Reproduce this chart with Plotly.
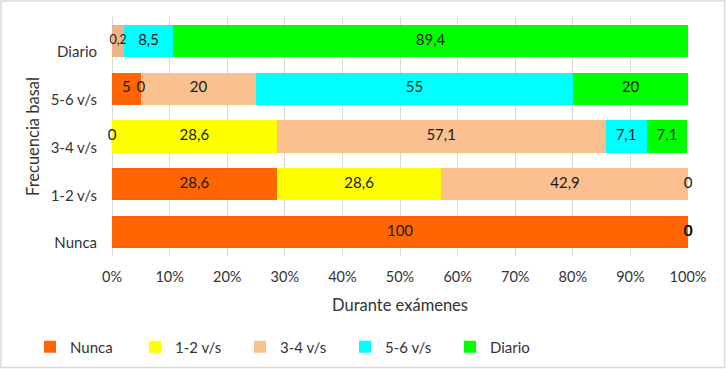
import plotly.graph_objects as go

# ---- data ----
categories = ["Nunca", "1-2 v/s", "3-4 v/s", "5-6 v/s", "Diario"]
series_names = ["Nunca", "1-2 v/s", "3-4 v/s", "5-6 v/s", "Diario"]

nunca = [100, 28.6, 0, 5, None]
uno_dos = [0, 28.6, 28.6, 0, None]
tres_cuatro = [0, 42.9, 57.1, 20, 2.1]
cinco_seis = [0, 0, 7.1, 55, 8.5]
diario = [0, None, 7.1, 20, 89.4]

nunca_labels = ["100", "28,6", "0", "5", ""]
uno_dos_labels = ["0", "28,6", "28,6", "0", ""]
tres_cuatro_labels = ["0", "42,9", "57,1", "20", "0,2"]
cinco_seis_labels = ["0", "0", "7,1", "55", "8,5"]
diario_labels = ["0", "", "7,1", "20", "89,4"]

x_ticks = [0, 10, 20, 30, 40, 50, 60, 70, 80, 90, 100]
x_tick_text = ["0%", "10%", "20%", "30%", "40%", "50%", "60%", "70%", "80%", "90%", "100%"]

# ---- styles ----
colors = ["#FF6600", "#FFFF00", "#FAC090", "#00FFFF", "#00FF00"]
point_colors = [
    [colors[0]] * 5,
    [colors[1]] * 5,
    [colors[2]] * 4 + ["#EEB38A"],
    [colors[3]] * 5,
    [colors[4]] * 5,
]
label_sizes = [
    [15] * 5,
    [15] * 5,
    [15] * 4 + [12.5],
    [15] * 5,
    [15] * 5,
]
FONT = "Lato, Carlito, 'Open Sans', sans-serif"
XMAX = 100
LABEL_SHIFT = 0.23  # category tick labels sit a little below the bar centres

all_values = [nunca, uno_dos, tres_cuatro, cinco_seis, diario]
all_labels = [nunca_labels, uno_dos_labels, tres_cuatro_labels, cinco_seis_labels, diario_labels]

fig = go.Figure()

# stacked bars
for name, vals, pc in zip(series_names, all_values, point_colors):
    fig.add_trace(go.Bar(
        y=categories, x=vals, name=name, orientation="h",
        marker=dict(color=pc, line=dict(width=0)),
        hoverinfo="skip",
    ))

# labels centered in each segment, computed from cumulative sums
cum = [0.0] * len(categories)
for vals, labs, sizes in zip(all_values, all_labels, label_sizes):
    xs, ys, ts, ss = [], [], [], []
    for i, v in enumerate(vals):
        if v is None:
            continue
        xs.append(min(cum[i] + v / 2.0, XMAX))
        ys.append(categories[i])
        ts.append(labs[i])
        ss.append(sizes[i])
        cum[i] += v
    fig.add_trace(go.Scatter(
        x=xs, y=ys, text=ts, mode="text", showlegend=False,
        textposition="middle center", hoverinfo="skip", cliponaxis=False,
        textfont=dict(family=FONT, size=ss, color="#1a1a1a"),
    ))

n = len(categories)
# empty helper trace so the category-label axis (yaxis2) gets drawn
fig.add_trace(go.Scatter(
    x=[None] * n, y=list(range(n)), yaxis="y2", mode="markers",
    showlegend=False, hoverinfo="skip",
))

W, H = 726, 369
L, R, T, B = 112, 38, 17, 113
pw, ph = W - L - R, H - T - B

def px_x(p):
    return (p - L) / pw

def px_y(p):
    return (H - B - p) / ph

fig.update_layout(
    width=W, height=H,
    barmode="stack", bargap=0.33,
    margin=dict(l=L, r=R, t=T, b=B, autoexpand=False),
    paper_bgcolor="white", plot_bgcolor="white",
    font=dict(family=FONT, size=15, color="#333333"),
    legend=dict(
        orientation="h", x=px_x(30), y=px_y(347), xanchor="left", yanchor="middle",
        entrywidth=60, entrywidthmode="pixels", itemwidth=30,
        font=dict(size=15, color="#333333"), traceorder="normal",
    ),
    xaxis=dict(
        range=[0, XMAX], tickvals=x_ticks, ticktext=x_tick_text,
        showgrid=True, gridcolor="#D9D9D9", gridwidth=1,
        zeroline=True, zerolinecolor="#D9D9D9", zerolinewidth=1,
        showline=False, ticks="", ticklabelstandoff=10, automargin=False,
        tickfont=dict(size=14.5),
        title=dict(text="Durante exámenes", standoff=15, font=dict(size=16.5)),
        fixedrange=True,
    ),
    yaxis=dict(
        categoryorder="array", categoryarray=categories,
        range=[-0.5, n - 0.5],
        showgrid=False, zeroline=False, showline=False, ticks="",
        showticklabels=False, automargin=False,
        title=dict(text="Frecuencia basal", standoff=67, font=dict(size=16.5)),
        fixedrange=True,
    ),
    yaxis2=dict(
        overlaying="y", side="left", type="linear",
        range=[-0.5 + LABEL_SHIFT, n - 0.5 + LABEL_SHIFT],
        tickvals=list(range(n)), ticktext=categories,
        showgrid=False, zeroline=False, showline=False, ticks="",
        ticklabelstandoff=14, automargin=False, tickfont=dict(size=15),
        fixedrange=True,
    ),
    shapes=[dict(
        type="rect", xref="paper", yref="paper",
        x0=px_x(1), x1=px_x(724.5), y0=px_y(367.5), y1=px_y(1),
        line=dict(color="#D9D9D9", width=1.5), fillcolor="rgba(0,0,0,0)", layer="below",
    )],
)

fig.write_html(
    "out.html",
    config={"displayModeBar": False},
    post_script="document.body.style.margin='0';document.body.style.overflow='hidden';",
)
